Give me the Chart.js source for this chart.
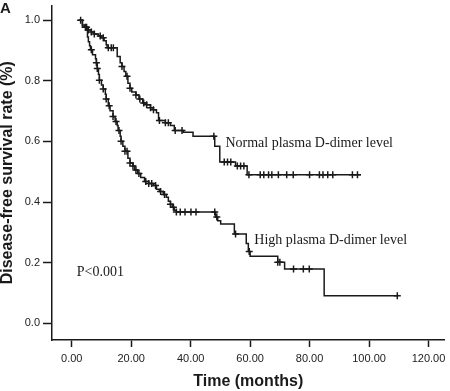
<!DOCTYPE html>
<html>
<head>
<meta charset="utf-8">
<script src="https://cdn.jsdelivr.net/npm/chart.js@4.4.0/dist/chart.umd.min.js"></script>
<style>
    html, body { margin: 0; padding: 0; background: #fff; }
    #box { width: 450px; height: 391px; }
</style>
</head>
<body>
<div id="box"><canvas id="myChart" width="450" height="391"></canvas></div>
<script>
// axis ticks
const xTicks = [0, 20, 40, 60, 80, 100, 120];
const yTicks = [0, 0.2, 0.4, 0.6, 0.8, 1.0];

// Normal plasma D-dimer level (KM steps)
const normalTimes = [2.3, 3.6, 4.3, 5.3, 6.6, 7.6, 9.0, 10.0, 10.9, 11.6, 11.9, 15.3, 16.3, 16.9, 17.6, 18.2, 18.9, 19.6, 20.2, 21.6, 22.6, 23.9, 25.2, 26.5, 27.5, 28.5, 29.2, 31.5, 33.2, 34.5, 37.5, 40.8, 48.1, 49.8, 55.1, 59.0, 97.2];
const normalSurv = [1.0, 0.984, 0.977, 0.968, 0.961, 0.955, 0.948, 0.942, 0.932, 0.919, 0.909, 0.880, 0.860, 0.847, 0.831, 0.815, 0.792, 0.776, 0.763, 0.753, 0.740, 0.727, 0.721, 0.711, 0.705, 0.695, 0.669, 0.662, 0.653, 0.636, 0.630, 0.617, 0.584, 0.532, 0.519, 0.490, 0.490];
const normalCensor = [3.0, 4.6, 5.6, 6.6, 7.6, 9.6, 10.6, 12.3, 13.3, 14.0, 16.9, 18.6, 19.6, 21.6, 22.9, 24.2, 25.2, 26.5, 27.5, 29.5, 31.5, 32.5, 34.8, 37.1, 47.8, 51.3, 52.4, 53.5, 55.7, 56.8, 57.9, 59.6, 63.4, 64.6, 66.2, 67.3, 69.5, 72.3, 74.5, 80.0, 83.3, 84.5, 86.1, 87.8, 94.4, 96.1];

// High plasma D-dimer level
const highTimes = [2.3, 3.6, 5.3, 5.6, 6.0, 6.3, 7.0, 8.0, 8.3, 8.6, 9.0, 9.3, 10.0, 10.6, 11.3, 11.6, 12.3, 12.9, 13.9, 14.6, 15.3, 15.6, 16.3, 16.6, 17.2, 17.9, 18.9, 19.6, 20.6, 21.2, 22.2, 23.2, 24.5, 25.9, 27.5, 28.5, 29.5, 30.8, 31.8, 32.5, 33.2, 33.8, 34.5, 35.2, 48.4, 49.1, 50.1, 54.7, 58.7, 59.4, 60.0, 69.3, 71.6, 84.9, 109.5];
const highSurv = [1.0, 0.977, 0.945, 0.929, 0.916, 0.903, 0.886, 0.873, 0.860, 0.841, 0.821, 0.802, 0.786, 0.773, 0.756, 0.740, 0.718, 0.701, 0.682, 0.666, 0.653, 0.636, 0.617, 0.601, 0.584, 0.568, 0.545, 0.529, 0.519, 0.506, 0.494, 0.481, 0.468, 0.461, 0.455, 0.442, 0.435, 0.425, 0.416, 0.403, 0.393, 0.383, 0.373, 0.367, 0.351, 0.338, 0.328, 0.295, 0.263, 0.237, 0.221, 0.201, 0.179, 0.091, 0.091];
const highCensor = [5.0, 6.6, 8.3, 8.6, 9.3, 10.6, 11.6, 12.6, 13.9, 14.9, 15.9, 16.6, 17.9, 18.6, 19.6, 20.6, 21.6, 22.6, 24.9, 25.9, 26.9, 28.2, 29.9, 31.2, 33.2, 34.2, 35.2, 36.5, 38.1, 40.1, 41.8, 48.1, 48.8, 55.1, 59.7, 69.3, 70.0, 74.6, 77.9, 79.9, 109.5];

// text labels inside the plot
const noteTexts = ['Normal plasma D-dimer level', 'High plasma D-dimer level', 'P<0.001'];
const noteX = [51.7, 61.4, 1.7];
const noteY = [0.594, 0.273, 0.169];

const sans = '"Liberation Sans", Arial, sans-serif';
const serif = '"Liberation Serif", "Times New Roman", serif';
const ink = '#1a1a1a';

function survAt(times, surv, t) {
    let s = surv[0];
    for (let i = 0; i < times.length; i++) {
        if (times[i] <= t) s = surv[i];
    }
    return s;
}

function steps(times, surv) {
    return times.map((t, i) => ({ x: t, y: surv[i] }));
}

function marks(times, surv, censor) {
    return censor.map(t => ({ x: t, y: survAt(times, surv, t) }));
}

const notesPlugin = {
    id: 'notes',
    afterDraw(chart) {
        const ctx = chart.ctx;
        const xs = chart.scales.x;
        const ys = chart.scales.y;
        ctx.save();
        ctx.fillStyle = ink;
        ctx.textBaseline = 'middle';
        ctx.textAlign = 'left';
        ctx.font = '14px ' + serif;
        noteTexts.forEach((txt, i) => {
            ctx.fillText(txt, xs.getPixelForValue(noteX[i]), ys.getPixelForValue(noteY[i]));
        });
        ctx.font = 'bold 15px ' + sans;
        ctx.textBaseline = 'alphabetic';
        ctx.fillText('A', 0, 13);
        ctx.restore();
    }
};

const lineStyle = {
    type: 'line',
    stepped: true,
    borderColor: ink,
    borderWidth: 1.5,
    pointRadius: 0,
    fill: false
};
const crossStyle = {
    type: 'line',
    showLine: false,
    pointStyle: 'cross',
    pointRadius: 3.5,
    borderColor: ink,
    borderWidth: 1.5
};

const myChart = new Chart(document.getElementById('myChart'), {
    type: 'line',
    data: {
        datasets: [
            Object.assign({ label: 'Normal', data: steps(normalTimes, normalSurv) }, lineStyle),
            Object.assign({ label: 'High', data: steps(highTimes, highSurv) }, lineStyle),
            Object.assign({ label: 'Normal censored', data: marks(normalTimes, normalSurv, normalCensor) }, crossStyle),
            Object.assign({ label: 'High censored', data: marks(highTimes, highSurv, highCensor) }, crossStyle)
        ]
    },
    options: {
        responsive: false,
        animation: false,
        devicePixelRatio: 1,
        layout: { padding: 0 },
        plugins: { legend: { display: false }, tooltip: { enabled: false } },
        scales: {
            x: {
                type: 'linear',
                min: -6.63,
                max: 125.37,
                afterBuildTicks: s => { s.ticks = xTicks.map(v => ({ value: v })); },
                afterFit: s => { s.height = 51; s.paddingLeft = 0; s.paddingRight = 0; },
                grid: { drawOnChartArea: false, drawTicks: true, tickLength: 7, tickWidth: 1.5, tickColor: ink },
                border: { display: true, color: ink, width: 1.5 },
                ticks: {
                    callback: v => v.toFixed(2),
                    font: { size: 11, family: sans },
                    color: '#222',
                    padding: 5,
                    maxRotation: 0,
                    autoSkip: false
                },
                title: {
                    display: true,
                    text: 'Time (months)',
                    font: { size: 16, weight: 'bold', family: sans },
                    color: ink,
                    padding: { top: 0, bottom: 0 }
                }
            },
            y: {
                type: 'linear',
                min: -0.0552,
                max: 1.0487,
                afterBuildTicks: s => { s.ticks = yTicks.map(v => ({ value: v })); },
                afterFit: s => { s.width = 52; s.paddingTop = 0; s.paddingBottom = 0; },
                grid: { drawOnChartArea: false, drawTicks: true, tickLength: 9, tickWidth: 1.5, tickColor: ink },
                border: { display: true, color: ink, width: 1.5 },
                ticks: {
                    callback: v => v.toFixed(1),
                    font: { size: 11, family: sans },
                    color: '#222',
                    padding: 3
                },
                title: {
                    display: true,
                    text: 'Disease-free survival rate (%)',
                    font: { size: 16, weight: 'bold', family: sans },
                    color: ink,
                    padding: { top: -2, bottom: 0 }
                }
            }
        }
    },
    plugins: [notesPlugin]
});
</script>
</body>
</html>
